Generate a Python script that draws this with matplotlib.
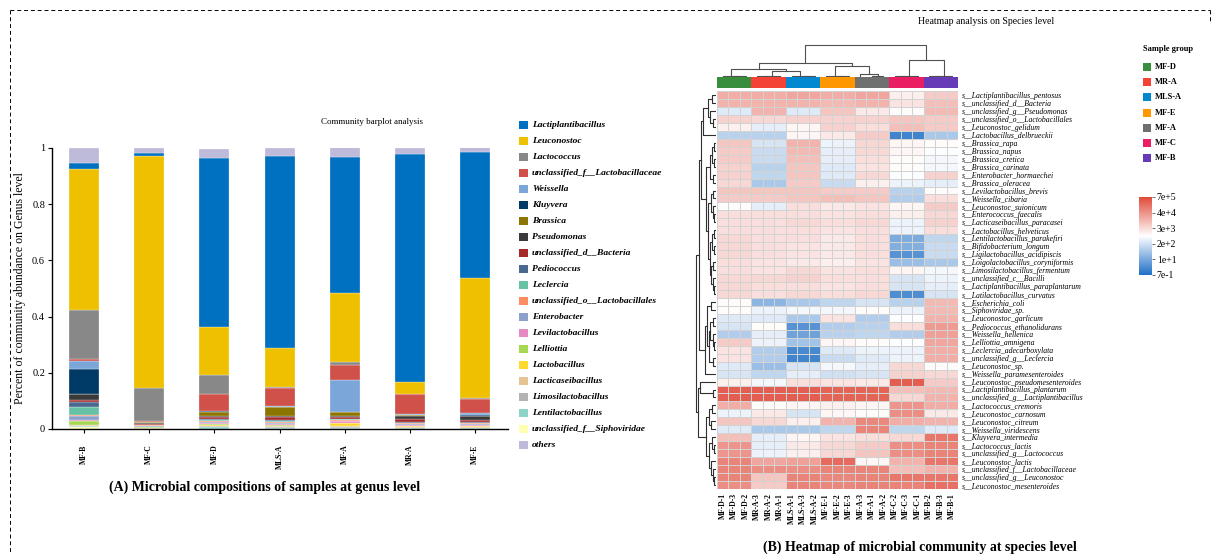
import numpy as np
import matplotlib
matplotlib.use('Agg')
import matplotlib.pyplot as plt
from matplotlib.colors import LinearSegmentedColormap, Normalize, ListedColormap
from matplotlib.patches import Rectangle
from matplotlib.lines import Line2D
from matplotlib.cm import ScalarMappable

# ------------------------------------------------------------------ data
samples = ["MF-B", "MF-C", "MF-D", "MLS-A", "MF-A", "MR-A", "MF-E"]

genera = ["Lactiplantibacillus", "Leuconostoc", "Lactococcus",
          "unclassified_f__Lactobacillaceae", "Weissella", "Kluyvera", "Brassica",
          "Pseudomonas", "unclassified_d__Bacteria", "Pediococcus", "Leclercia",
          "unclassified_o__Lactobacillales", "Enterobacter", "Levilactobacillus",
          "Lelliottia", "Lactobacillus", "Lacticaseibacillus", "Limosilactobacillus",
          "Lentilactobacillus", "unclassified_f__Siphoviridae", "others"]

genus_colors = ["#0070C0", "#EEC000", "#888888", "#D0504A", "#7AA6DA", "#003A66",
                "#8C7500", "#3A3A3A", "#A52A2A", "#4A6890", "#66C2A5", "#FC8D62",
                "#8DA0CB", "#E78AC3", "#A6D854", "#FFD92F", "#E5C494", "#B3B3B3",
                "#8DD3C7", "#FFFFB3", "#BEBADA"]

# relative abundance per sample (order of `samples`)
Lactiplantibacillus = [0.021, 0.010, 0.600, 0.683, 0.486, 0.814, 0.449]
Leuconostoc         = [0.502, 0.827, 0.170, 0.139, 0.243, 0.040, 0.424]
Lactococcus         = [0.175, 0.115, 0.069, 0.002, 0.011, 0.001, 0.004]
unc_f_Lactobacillaceae = [0.009, 0.004, 0.059, 0.063, 0.055, 0.071, 0.052]
Weissella           = [0.026, 0.001, 0.002, 0.003, 0.113, 0.003, 0.007]
Kluyvera            = [0.090, 0.001, 0.003, 0.001, 0.001, 0.001, 0.001]
Brassica            = [0.002, 0.002, 0.015, 0.034, 0.012, 0.002, 0.002]
Pseudomonas         = [0.019, 0.004, 0.003, 0.003, 0.005, 0.014, 0.015]
unc_d_Bacteria      = [0.007, 0.003, 0.008, 0.010, 0.006, 0.010, 0.006]
Pediococcus         = [0.020, 0.001, 0.002, 0.004, 0.002, 0.002, 0.002]
Leclercia           = [0.026, 0.001, 0.003, 0.003, 0.002, 0.002, 0.002]
unc_o_Lactobacillales = [0.006, 0.004, 0.004, 0.003, 0.003, 0.003, 0.003]
Enterobacter        = [0.014, 0.001, 0.003, 0.003, 0.002, 0.002, 0.002]
Levilactobacillus   = [0.003, 0.002, 0.005, 0.006, 0.006, 0.005, 0.005]
Lelliottia          = [0.012, 0.001, 0.004, 0.002, 0.002, 0.001, 0.002]
Lactobacillus       = [0.003, 0.002, 0.002, 0.002, 0.010, 0.002, 0.002]
Lacticaseibacillus  = [0.002, 0.002, 0.002, 0.002, 0.003, 0.002, 0.002]
Limosilactobacillus = [0.002, 0.001, 0.002, 0.002, 0.002, 0.001, 0.001]
Lentilactobacillus  = [0.002, 0.000, 0.006, 0.005, 0.004, 0.004, 0.004]
unc_f_Siphoviridae  = [0.007, 0.000, 0.001, 0.000, 0.001, 0.000, 0.000]
others              = [0.052, 0.018, 0.034, 0.030, 0.034, 0.020, 0.018]

abundance = [Lactiplantibacillus, Leuconostoc, Lactococcus, unc_f_Lactobacillaceae,
             Weissella, Kluyvera, Brassica, Pseudomonas, unc_d_Bacteria, Pediococcus,
             Leclercia, unc_o_Lactobacillales, Enterobacter, Levilactobacillus,
             Lelliottia, Lactobacillus, Lacticaseibacillus, Limosilactobacillus,
             Lentilactobacillus, unc_f_Siphoviridae, others]

# heatmap
heat_columns = ["MF-D-1", "MF-D-3", "MF-D-2", "MR-A-3", "MR-A-2", "MR-A-1",
                "MLS-A-1", "MLS-A-3", "MLS-A-2", "MF-E-1", "MF-E-2", "MF-E-3",
                "MF-A-3", "MF-A-1", "MF-A-2", "MF-C-2", "MF-C-3", "MF-C-1",
                "MF-B-2", "MF-B-3", "MF-B-1"]
heat_groups = ["MF-D", "MR-A", "MLS-A", "MF-E", "MF-A", "MF-C", "MF-B"]
group_colors = ["#388E3C", "#F44336", "#0288D1", "#FF9800", "#707070", "#E91E63", "#673AB7"]

species = ["s__Lactiplantibacillus_pentosus", "s__unclassified_d__Bacteria",
           "s__unclassified_g__Pseudomonas", "s__unclassified_o__Lactobacillales",
           "s__Leuconostoc_gelidum", "s__Lactobacillus_delbrueckii", "s__Brassica_rapa",
           "s__Brassica_napus", "s__Brassica_cretica", "s__Brassica_carinata",
           "s__Enterobacter_hormaechei", "s__Brassica_oleracea", "s__Levilactobacillus_brevis",
           "s__Weissella_cibaria", "s__Leuconostoc_suionicum", "s__Enterococcus_faecalis",
           "s__Lacticaseibacillus_paracasei", "s__Lactobacillus_helveticus",
           "s__Lentilactobacillus_parakefiri", "s__Bifidobacterium_longum",
           "s__Ligilactobacillus_acidipiscis", "s__Loigolactobacillus_coryniformis",
           "s__Limosilactobacillus_fermentum", "s__unclassified_c__Bacilli",
           "s__Lactiplantibacillus_paraplantarum", "s__Latilactobacillus_curvatus",
           "s__Escherichia_coli", "s__Siphoviridae_sp.", "s__Leuconostoc_garlicum",
           "s__Pediococcus_ethanolidurans", "s__Weissella_hellenica", "s__Lelliottia_amnigena",
           "s__Leclercia_adecarboxylata", "s__unclassified_g__Leclercia", "s__Leuconostoc_sp.",
           "s__Weissella_paramesenteroides", "s__Leuconostoc_pseudomesenteroides",
           "s__Lactiplantibacillus_plantarum", "s__unclassified_g__Lactiplantibacillus",
           "s__Lactococcus_cremoris", "s__Leuconostoc_carnosum", "s__Leuconostoc_citreum",
           "s__Weissella_viridescens", "s__Kluyvera_intermedia", "s__Lactococcus_lactis",
           "s__unclassified_g__Lactococcus", "s__Leuconostoc_lactis",
           "s__unclassified_f__Lactobacillaceae", "s__unclassified_g__Leuconostoc",
           "s__Leuconostoc_mesenteroides"]

# log10 abundance per species (rows) and sample group (MF-D, MR-A, MLS-A, MF-E, MF-A, MF-C, MF-B)
heat_log10 = [
    [4.2, 4.2, 4.3, 4.2, 4.3, 3.1, 3.7],
    [4.1, 4.1, 4.1, 4.0, 4.1, 3.3, 3.9],
    [2.4, 4.1, 2.4, 3.8, 3.2, 2.9, 4.0],
    [3.6, 3.5, 3.6, 3.6, 3.6, 3.8, 3.7],
    [3.1, 2.5, 3.0, 3.6, 3.4, 3.9, 3.7],
    [1.9, 1.9, 3.0, 3.2, 3.7, 0.3, 1.7],
    [3.8, 2.3, 4.1, 2.6, 3.5, 3.0, 2.9],
    [3.7, 2.1, 4.0, 2.5, 3.5, 3.0, 2.8],
    [3.7, 2.1, 3.9, 2.5, 3.4, 2.9, 2.7],
    [3.6, 1.9, 3.8, 2.4, 3.3, 2.9, 2.7],
    [3.6, 2.0, 3.8, 2.4, 3.5, 2.8, 3.6],
    [3.5, 1.7, 3.7, 2.1, 3.1, 2.6, 2.5],
    [3.8, 3.8, 3.8, 3.7, 3.7, 1.9, 2.9],
    [3.7, 3.7, 3.8, 3.9, 3.8, 1.8, 3.4],
    [2.9, 2.5, 3.4, 3.2, 3.3, 3.0, 3.7],
    [3.4, 3.4, 3.4, 3.3, 3.4, 3.1, 3.5],
    [3.4, 3.4, 3.5, 3.4, 3.5, 2.6, 3.6],
    [3.4, 3.4, 3.4, 3.3, 3.4, 2.6, 3.4],
    [3.5, 3.4, 3.4, 3.2, 3.4, 1.1, 2.0],
    [3.5, 3.4, 3.3, 3.2, 3.4, 1.2, 2.1],
    [3.5, 3.4, 3.3, 3.2, 3.4, 0.6, 2.1],
    [3.4, 3.3, 3.2, 3.1, 3.3, 1.5, 1.7],
    [3.4, 3.3, 3.5, 3.3, 3.4, 3.0, 2.7],
    [3.5, 3.5, 3.6, 3.4, 3.4, 2.3, 2.6],
    [3.5, 3.4, 3.4, 3.3, 3.4, 2.3, 2.5],
    [3.5, 3.4, 3.5, 3.4, 3.5, 0.5, 2.3],
    [2.9, 1.3, 1.7, 2.0, 2.3, 1.9, 4.0],
    [2.9, 2.6, 2.7, 2.7, 2.9, 2.6, 4.0],
    [2.4, 2.4, 1.7, 3.3, 1.8, 2.8, 4.1],
    [2.3, 2.9, 0.6, 1.8, 1.9, 3.4, 4.5],
    [1.8, 2.5, 0.9, 1.9, 2.0, 1.8, 4.4],
    [3.7, 2.6, 1.6, 3.0, 2.9, 2.8, 4.3],
    [3.3, 1.8, 0.4, 2.4, 2.6, 2.6, 4.2],
    [3.3, 1.8, 0.3, 2.1, 2.4, 2.6, 4.2],
    [2.4, 1.5, 2.3, 2.7, 2.5, 3.5, 2.9],
    [2.3, 2.0, 2.5, 2.2, 2.3, 3.6, 3.5],
    [3.1, 2.7, 3.4, 3.3, 3.2, 5.5, 3.7],
    [5.5, 5.5, 5.5, 5.4, 5.4, 3.9, 4.0],
    [5.5, 5.5, 5.5, 5.4, 5.4, 3.5, 4.1],
    [4.2, 2.9, 3.0, 3.1, 3.0, 4.6, 4.2],
    [2.6, 3.2, 2.3, 3.0, 2.9, 4.7, 3.2],
    [3.8, 3.5, 3.1, 4.1, 4.8, 4.2, 4.1],
    [2.4, 1.7, 1.7, 2.0, 4.9, 2.0, 2.4],
    [3.9, 2.5, 3.0, 3.3, 3.4, 3.5, 5.1],
    [4.6, 2.5, 3.2, 3.5, 3.7, 4.7, 4.9],
    [4.6, 2.6, 3.1, 3.5, 3.8, 4.7, 4.9],
    [4.9, 4.3, 4.4, 5.3, 3.0, 4.1, 5.1],
    [4.9, 4.7, 4.7, 4.9, 4.9, 3.9, 4.1],
    [4.9, 3.8, 4.9, 4.8, 4.9, 5.1, 5.1],
    [4.7, 3.7, 4.9, 4.8, 4.9, 4.9, 5.2],
]
replicates_per_group = 3

cbar_tick_labels = ["7e-1", "1e+1", "2e+2", "3e+3", "4e+4", "7e+5"]
cbar_min, cbar_max = 0.7, 7e5

# dendrograms: [left, right, height]; leaves are display positions
col_tree = [[[[0, [1, 2, 1.0], 1.5],
              [[[3, 4, 1.0], 5, 1.5], [6, [7, 8, 1.0], 1.5], 6], 8],
             [[9, [10, 11, 1.0], 1.5], [12, [13, 14, 1.5], 3], 11], 14],
            [[[15, 16, 1.0], 17, 1.5], [[18, 19, 1.0], 20, 1.5], 17], 32]

row_tree = [
    [[[[[0, 1, 4], [2, [3, 4, 3], 6], 8], 5, 13],
      [[[[6, 7, 2], [8, 9, 2.5], 4], [10, 11, 3], 6],
       [[[12, 13, 3], [14, [15, 16, 2], 3.5], 5],
        [[[17, 18, 2.5], [19, 20, 2], 4], [[21, 22, 3], [23, [24, 25, 2], 3], 5], 6.5], 8], 10], 15],
     [[[26, 27, 5], [[[28, 29, 3], [30, [31, 32, 2], 3.5], 6], [33, 34, 3], 7.5], 9], 35, 11], 17],
    [[36, [37, 38, 3], 16],
     [[[39, 40, 4], [41, 42, 5], 7], [[43, [44, 45, 2], 4], [46, [47, [48, 49, 2], 3], 5], 7], 10], 18],
    20]

# ------------------------------------------------------------------ figure
W, H = 1216, 555
plt.rcParams['font.family'] = ['Liberation Serif', 'DejaVu Serif']
fig = plt.figure(figsize=(W / 100, H / 100), dpi=100)


def px_axes(x0, y0, x1, y1):
    return fig.add_axes([x0 / W, 1 - y1 / H, (x1 - x0) / W, (y1 - y0) / H])


# dashed frame
dash = (0, (4, 3))
fig.add_artist(Line2D([10 / W, 1210 / W], [1 - 10 / H, 1 - 10 / H], transform=fig.transFigure,
                      ls=dash, color='black', lw=0.7))
fig.add_artist(Line2D([10 / W, 10 / W], [1 - 10 / H, 0], transform=fig.transFigure,
                      ls=dash, color='black', lw=0.7))
fig.add_artist(Line2D([1210 / W, 1210 / W], [1 - 10 / H, 1 - 22 / H], transform=fig.transFigure,
                      ls=dash, color='black', lw=0.7))

# ------------------------------------------------------------------ (A) bar chart
ax = px_axes(52, 148, 508, 429)
x = np.arange(len(samples))
stack_order = list(range(len(genera) - 2, -1, -1)) + [len(genera) - 1]
bottom = np.zeros(len(samples))
for gi in stack_order:
    vals = np.array(abundance[gi])
    ax.bar(x, vals, bottom=bottom, width=0.46, color=genus_colors[gi],
           edgecolor='white', linewidth=0.2)
    bottom += vals
ax.set_xlim(-0.49, 6.5)
ax.set_ylim(0, 1)
ax.set_yticks([0, 0.2, 0.4, 0.6, 0.8, 1.0])
ax.set_yticklabels(["0", "0.2", "0.4", "0.6", "0.8", "1"], fontsize=7.5)
ax.set_xticks(x)
ax.set_xticklabels(samples, rotation=90, fontsize=5.5, fontweight='bold')
ax.tick_params(axis='both', length=3, width=0.8, pad=2)
ax.tick_params(axis='x', pad=8)
for s in ['top', 'right']:
    ax.spines[s].set_visible(False)
for s in ['left', 'bottom']:
    ax.spines[s].set_linewidth(1.0)
ax.set_ylabel("Percent of community abundance on Genus level", fontsize=8.5, labelpad=4)
fig.text(372 / W, 1 - 122 / H, "Community barplot analysis", fontsize=6.5,
         ha='center', va='center')
fig.text(265 / W, 1 - 487 / H, "(A) Microbial compositions of samples at genus level",
         fontsize=10, fontweight='bold', ha='center', va='center')

# legend for genera
axl = px_axes(512, 115, 700, 455)
axl.set_xlim(512, 700)
axl.set_ylim(455, 115)
axl.axis('off')
for i, (g, c) in enumerate(zip(genera, genus_colors)):
    yc = 125 + i * 16.0
    axl.add_patch(Rectangle((519, yc - 4), 9, 8, color=c, lw=0))
    axl.text(532, yc, g, fontsize=6.8, style='italic', fontweight='bold',
             ha='left', va='center')

# ------------------------------------------------------------------ (B) heatmap
cmap = LinearSegmentedColormap.from_list("bwr_soft", ["#1F6FC6", "#FFFFFF", "#E04A3A"])
norm = Normalize(vmin=np.log10(cbar_min), vmax=np.log10(cbar_max))

M = np.repeat(np.array(heat_log10), replicates_per_group, axis=1)
n_rows, n_cols = M.shape

axh = px_axes(717, 91, 958, 489)
axh.pcolormesh(M, cmap=cmap, norm=norm, edgecolors='#D2D2D2', linewidth=0.6)
axh.set_xlim(0, n_cols)
axh.set_ylim(n_rows, 0)
for s in axh.spines.values():
    s.set_visible(False)
axh.yaxis.tick_right()
axh.set_yticks(np.arange(n_rows) + 0.5)
axh.set_yticklabels(species, fontsize=5.6, style='italic')
axh.set_xticks(np.arange(n_cols) + 0.5)
axh.set_xticklabels(heat_columns, rotation=90, fontsize=5.5, fontweight='bold')
axh.tick_params(length=0, pad=3)

# group colour strip
axg = px_axes(717, 77, 958, 88)
group_idx = np.repeat(np.arange(len(heat_groups)), replicates_per_group)[None, :]
axg.pcolormesh(group_idx, cmap=ListedColormap(group_colors), vmin=-0.5,
               vmax=len(heat_groups) - 0.5)
axg.set_xlim(0, n_cols)
axg.axis('off')


def dendro_segments(node, segs):
    if isinstance(node, int):
        return node + 0.5, 0.0
    l, r, h = node
    pl, hl = dendro_segments(l, segs)
    pr, hr = dendro_segments(r, segs)
    segs.append(([pl, pl, pr, pr], [hl, h, h, hr]))
    return (pl + pr) / 2, h


# column dendrogram
axdc = px_axes(717, 40, 958, 77)
segs = []
dendro_segments(col_tree, segs)
for xs, hs in segs:
    axdc.plot(xs, hs, color='#505050', lw=0.8)
axdc.set_xlim(0, n_cols)
axdc.set_ylim(0, 37)
axdc.axis('off')

# row dendrogram
axdr = px_axes(694, 91, 716, 489)
segs = []
dendro_segments(row_tree, segs)
for ys, hs in segs:
    axdr.plot(hs, ys, color='#303030', lw=0.8)
axdr.set_ylim(n_rows, 0)
axdr.set_xlim(22, 0)
axdr.axis('off')

fig.text(918 / W, 1 - 21 / H, "Heatmap analysis on Species level", fontsize=7,
         ha='left', va='center')
fig.text(763 / W, 1 - 547 / H, "(B) Heatmap of microbial community at species level",
         fontsize=10, fontweight='bold', ha='left', va='center')

# sample group legend
axs = px_axes(1135, 40, 1216, 170)
axs.set_xlim(1135, 1216)
axs.set_ylim(170, 40)
axs.axis('off')
axs.text(1143, 49, "Sample group", fontsize=6, fontweight='bold', ha='left', va='center')
for i, (g, c) in enumerate(zip(heat_groups, group_colors)):
    yc = 67 + i * 15.2
    axs.add_patch(Rectangle((1143, yc - 4), 8, 8, color=c, lw=0))
    axs.text(1155, yc, g, fontsize=6, fontweight='bold', ha='left', va='center')

# colour bar
axc = px_axes(1139, 197, 1152, 275)
cb = fig.colorbar(ScalarMappable(norm=norm, cmap=cmap), cax=axc)
cb.set_ticks(np.linspace(np.log10(cbar_min), np.log10(cbar_max), len(cbar_tick_labels)))
cb.set_ticklabels(cbar_tick_labels)
cb.outline.set_visible(False)
axc.tick_params(labelsize=7, length=2.5, width=0.6, color='#555555', pad=1)

fig.savefig("out.png", dpi=100)
